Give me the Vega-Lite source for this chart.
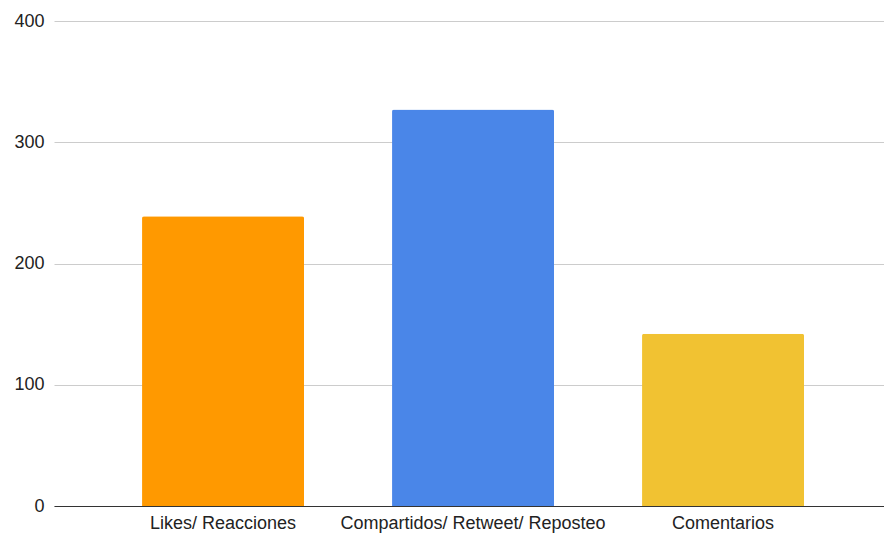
{
  "$schema": "https://vega.github.io/schema/vega-lite/v6.json",
  "width": 830,
  "height": 485,
  "autosize": {"type": "none"},
  "padding": {"left": 54, "top": 21, "right": 0, "bottom": 29},
  "background": "#ffffff",
  "config": {
    "view": {"stroke": null},
    "font": "Liberation Sans"
  },
  "data": {
    "values": [
      {"categoria": "Likes/ Reacciones", "valor": 239, "color": "#FF9900"},
      {"categoria": "Compartidos/ Retweet/ Reposteo", "valor": 327, "color": "#4A86E8"},
      {"categoria": "Comentarios", "valor": 142, "color": "#F1C232"}
    ]
  },
  "mark": {"type": "bar", "cornerRadiusTopLeft": 2, "cornerRadiusTopRight": 2},
  "encoding": {
    "x": {
      "field": "categoria",
      "type": "nominal",
      "sort": null,
      "scale": {"paddingInner": 0.352, "paddingOuter": 0.336, "align": 0.524},
      "axis": {
        "title": null,
        "labelAngle": 0,
        "labelFontSize": 18,
        "labelColor": "#222222",
        "labelPadding": 8,
        "labelLimit": 500,
        "ticks": false,
        "domainColor": "#333333",
        "domainWidth": 1
      }
    },
    "y": {
      "field": "valor",
      "type": "quantitative",
      "scale": {"domain": [0, 400], "nice": false},
      "axis": {
        "title": null,
        "values": [0, 100, 200, 300, 400],
        "labelFontSize": 18,
        "labelColor": "#222222",
        "labelPadding": 10,
        "ticks": false,
        "domain": false,
        "gridColor": "#cccccc",
        "gridWidth": 1
      }
    },
    "color": {"field": "color", "type": "nominal", "scale": null, "legend": null}
  }
}
